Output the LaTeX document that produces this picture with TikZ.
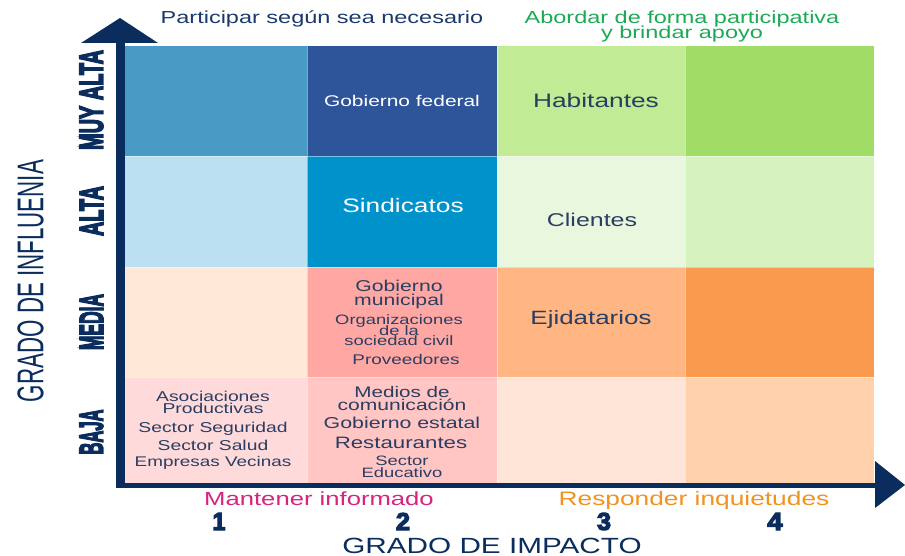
\documentclass[tikz,border=0pt]{standalone}
\usepackage{fontspec}
\setmainfont{Liberation Sans}
\newfontfamily\heavyfont[UprightFont={* Bold},UprightFeatures={FakeBold=5}]{Liberation Sans}
\usepackage{graphicx}
\definecolor{axisblue}{HTML}{0B2D5E}
\definecolor{txtblue}{HTML}{2A3D62}
\definecolor{topblue}{HTML}{1B3A6B}
\definecolor{topgreen}{HTML}{1CAA55}
\definecolor{magentaT}{HTML}{D6247F}
\definecolor{orangeT}{HTML}{F2921F}
\definecolor{cA1}{HTML}{4A9AC6}
\definecolor{cA2}{HTML}{2E5499}
\definecolor{cA3}{HTML}{C1EB94}
\definecolor{cA4}{HTML}{A1DC66}
\definecolor{cB1}{HTML}{BBE0F2}
\definecolor{cB2}{HTML}{0093CB}
\definecolor{cB3}{HTML}{EAF7DF}
\definecolor{cB4}{HTML}{D6F3BF}
\definecolor{cC1}{HTML}{FFE8D8}
\definecolor{cC2}{HTML}{FFA8A3}
\definecolor{cC3}{HTML}{FFB682}
\definecolor{cC4}{HTML}{FA9A4E}
\definecolor{cD1}{HTML}{FFDADA}
\definecolor{cD2}{HTML}{FFC6C4}
\definecolor{cD3}{HTML}{FFE5D8}
\definecolor{cD4}{HTML}{FFD1AD}
\newcommand{\Wt}[2]{{\fontsize{#1}{#1}\selectfont\scalebox{1.35}[1]{#2}}}
\newcommand{\Hv}[3]{\resizebox{#1}{#2}{\heavyfont #3}}
\begin{document}
\begin{tikzpicture}[x=1pt,y=-1pt,
  lbl/.style={anchor=base,inner sep=0pt,text=txtblue},
  wlbl/.style={anchor=base,inner sep=0pt,text=white},
  rowlbl/.style={rotate=90,inner sep=0pt,text=axisblue},
  numlbl/.style={inner sep=0pt,text=axisblue},
  sep/.style={draw=white,draw opacity=0.45,line width=0.8pt}]
\useasboundingbox (0,0) rectangle (905,556);
\fill[white] (0,0) rectangle (905,556);
% cells
\fill[cA1] (125,46) rectangle (307,156);
\fill[cA2] (307,46) rectangle (497,156);
\fill[cA3] (497,46) rectangle (685,156);
\fill[cA4] (685,46) rectangle (874,156);
\fill[cB1] (125,156) rectangle (307,267);
\fill[cB2] (307,156) rectangle (497,267);
\fill[cB3] (497,156) rectangle (685,267);
\fill[cB4] (685,156) rectangle (874,267);
\fill[cC1] (125,267) rectangle (307,377);
\fill[cC2] (307,267) rectangle (497,377);
\fill[cC3] (497,267) rectangle (685,377);
\fill[cC4] (685,267) rectangle (874,377);
\fill[cD1] (125,377) rectangle (307,483);
\fill[cD2] (307,377) rectangle (497,483);
\fill[cD3] (497,377) rectangle (685,483);
\fill[cD4] (685,377) rectangle (874,483);
% faint separators
\draw[sep] (307,46) -- (307,483);
\draw[sep] (497,46) -- (497,483);
\draw[sep] (685,46) -- (685,483);
\draw[sep] (125,156) -- (874,156);
\draw[sep] (125,267) -- (874,267);
\draw[sep] (125,377) -- (874,377);
% axes
\fill[axisblue] (116,43) rectangle (125,488);
\fill[axisblue] (116,483) rectangle (876,488);
\fill[axisblue] (81,43) -- (120,18) -- (158,43) -- cycle;
\fill[axisblue] (875,461) -- (905,485) -- (875,508) -- cycle;
% top labels
\node[anchor=base,inner sep=0pt,text=topblue] (tl) at (322,23.5) {\Wt{17.4}{Participar según sea necesario}};
\node[anchor=base,inner sep=0pt,text=topgreen] (tr1) at (682,23.5) {\Wt{17.4}{Abordar de forma participativa}};
\node[anchor=base,inner sep=0pt,text=topgreen] (tr2) at (682,39) {\Wt{17.4}{y brindar apoyo}};
% bottom labels
\node[anchor=base,inner sep=0pt,text=magentaT] (bl) at (319,505) {\Wt{19}{Mantener informado}};
\node[anchor=base,inner sep=0pt,text=orangeT] (br) at (694,505) {\Wt{19.5}{Responder inquietudes}};
\node[numlbl] (n1) at (219,521.5) {\Hv{13pt}{17pt}{1}};
\node[numlbl] (n2) at (403,521.5) {\Hv{14pt}{17pt}{2}};
\node[numlbl] (n3) at (604,521.5) {\Hv{14pt}{17pt}{3}};
\node[numlbl] (n4) at (775,521.5) {\Hv{15pt}{17pt}{4}};
\node[anchor=base,inner sep=0pt,text=axisblue] (xt) at (492,553) {\Wt{22}{GRADO DE IMPACTO}};
% left labels
\node[rowlbl] (yt) at (30.5,281) {\resizebox{242pt}{26pt}{GRADO DE INFLUENIA}};
\node[rowlbl] (r1) at (91.5,100) {\Hv{100pt}{23pt}{MUY ALTA}};
\node[rowlbl] (r2) at (91.5,211) {\Hv{50pt}{23pt}{ALTA}};
\node[rowlbl] (r3) at (91.5,322) {\Hv{56pt}{23pt}{MEDIA}};
\node[rowlbl] (r4) at (91.5,432) {\Hv{45pt}{23pt}{BAJA}};
% cell texts rows 1-3
\node[wlbl] (gf) at (402,106.5) {\Wt{15.5}{Gobierno federal}};
\node[lbl] (hab) at (596,108) {\Wt{19.5}{Habitantes}};
\node[wlbl] (sin) at (403,213) {\Wt{19.5}{Sindicatos}};
\node[lbl] (cli) at (592,227) {\Wt{18.5}{Clientes}};
\node[lbl] (eji) at (591,324) {\Wt{19.2}{Ejidatarios}};
\node[lbl] (gm1) at (399,291.5) {\Wt{15.7}{Gobierno}};
\node[lbl] (gm2) at (399,305) {\Wt{15.7}{municipal}};
\node[lbl] (os1) at (399,324.5) {\Wt{13.6}{Organizaciones}};
\node[lbl] (os2) at (399,335) {\Wt{13.6}{de la}};
\node[lbl] (os3) at (399,345.5) {\Wt{13.6}{sociedad civil}};
\node[lbl] (prov) at (406,364) {\Wt{14}{Proveedores}};
% row 4 col 2
\node[lbl] (md1) at (402,397) {\Wt{15.3}{Medios de}};
\node[lbl] (md2) at (402,410) {\Wt{15.6}{comunicación}};
\node[lbl] (ge) at (402,428) {\Wt{15.8}{Gobierno estatal}};
\node[lbl] (res) at (401,448) {\Wt{16.5}{Restaurantes}};
\node[lbl] (se1) at (402,465) {\Wt{13.6}{Sector}};
\node[lbl] (se2) at (402,477) {\Wt{13.6}{Educativo}};
% row 4 col 1
\node[lbl] (as1) at (213,401) {\Wt{14.3}{Asociaciones}};
\node[lbl] (as2) at (213,413) {\Wt{14.3}{Productivas}};
\node[lbl] (ss) at (213,432) {\Wt{14.3}{Sector Seguridad}};
\node[lbl] (sa) at (213,450) {\Wt{14.3}{Sector Salud}};
\node[lbl] (ev) at (213,466) {\Wt{14}{Empresas Vecinas}};
\end{tikzpicture}
\end{document}
